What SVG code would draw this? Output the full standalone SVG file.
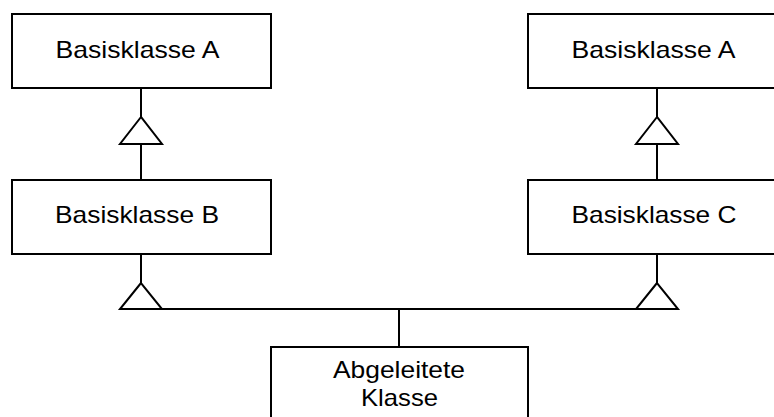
<svg xmlns="http://www.w3.org/2000/svg" width="774" height="417" viewBox="0 0 774 417">
  <style>
    .box { fill: #ffffff; stroke: #000000; stroke-width: 2; }
    .edge { fill: none; stroke: #000000; stroke-width: 2; }
    .gen { fill: #ffffff; stroke: #000000; stroke-width: 2; stroke-linejoin: miter; }
    .lbl { font-family: "Liberation Sans", Arial, sans-serif; font-size: 24px; fill: #000000; text-anchor: middle; }
  </style>
  <rect x="0" y="0" width="774" height="417" fill="#ffffff"/>

  <!-- inheritance connectors -->
  <g id="connectors">
    <line class="edge" x1="141" y1="88" x2="141" y2="117"/>
    <line class="edge" x1="141" y1="144" x2="141" y2="180"/>
    <polygon class="gen" points="141,117 120,144 162,144"/>

    <line class="edge" x1="657" y1="88" x2="657" y2="117"/>
    <line class="edge" x1="657" y1="144" x2="657" y2="180"/>
    <polygon class="gen" points="657,117 636,144 678,144"/>

    <line class="edge" x1="141" y1="254" x2="141" y2="283"/>
    <line class="edge" x1="657" y1="254" x2="657" y2="283"/>
    <line class="edge" x1="141" y1="309" x2="657" y2="309"/>
    <polygon class="gen" points="141,283 120,309 162,309"/>
    <polygon class="gen" points="657,283 636,309 678,309"/>
    <line class="edge" x1="399" y1="309" x2="399" y2="347"/>
  </g>

  <g id="basisklasse-a-left">
    <rect class="box" x="12" y="14" width="259" height="74"/>
    <text class="lbl" x="137.5" y="58" textLength="164" lengthAdjust="spacingAndGlyphs">Basisklasse A</text>
  </g>

  <g id="basisklasse-b">
    <rect class="box" x="12" y="180" width="259" height="74"/>
    <text class="lbl" x="137" y="223" textLength="164" lengthAdjust="spacingAndGlyphs">Basisklasse B</text>
  </g>

  <g id="basisklasse-a-right">
    <rect class="box" x="528" y="14" width="258" height="74"/>
    <text class="lbl" x="653.5" y="58" textLength="164" lengthAdjust="spacingAndGlyphs">Basisklasse A</text>
  </g>

  <g id="basisklasse-c">
    <rect class="box" x="528" y="180" width="258" height="74"/>
    <text class="lbl" x="654" y="223" textLength="165" lengthAdjust="spacingAndGlyphs">Basisklasse C</text>
  </g>

  <g id="abgeleitete-klasse">
    <rect class="box" x="271" y="347" width="257" height="80"/>
    <text class="lbl" x="399" y="377.5" textLength="132" lengthAdjust="spacingAndGlyphs">Abgeleitete</text>
    <text class="lbl" x="399.5" y="406" textLength="77" lengthAdjust="spacingAndGlyphs">Klasse</text>
  </g>
</svg>
